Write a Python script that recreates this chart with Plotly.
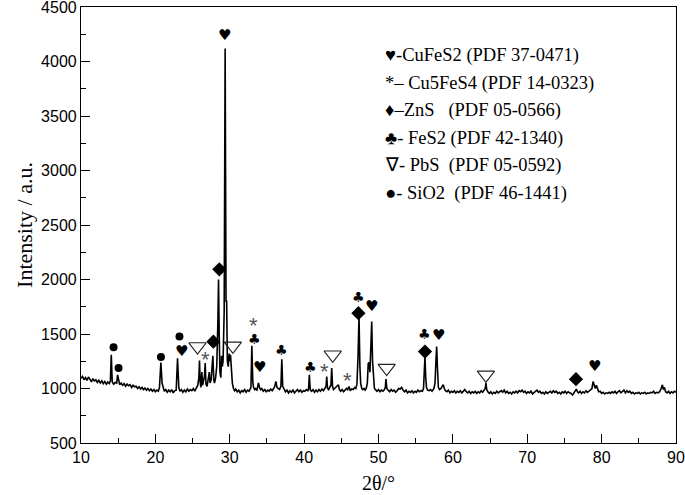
import plotly.graph_objects as go

# ---- XRD pattern (2theta, intensity) ----
pattern = [
    (10.0,1095),(10.2,1110),(10.4,1080),(10.6,1100),(10.8,1075),(11.0,1105),(11.2,1085),(11.4,1060),
    (11.6,1090),(11.8,1070),(12.0,1080),(12.2,1055),(12.4,1075),(12.6,1050),(12.8,1070),(13.0,1045),
    (13.2,1065),(13.4,1040),(13.6,1060),(13.8,1045),(13.95,1070),(14.07,1309),(14.2,1060),(14.4,1040),
    (14.6,1055),(14.8,1050),(14.92,1125),(15.05,1060),(15.2,1035),(15.4,1050),(15.6,1030),(15.8,1045),
    (16.0,1020),(16.2,1040),(16.4,1025),(16.6,1035),(16.8,1010),(17.0,1030),(17.2,1015),(17.4,1020),
    (17.6,1000),(17.8,1015),(18.0,995),(18.2,1010),(18.4,990),(18.6,1005),(18.8,985),(19.0,1000),
    (19.2,980),(19.4,995),(19.6,975),(19.8,990),(20.0,970),(20.2,985),(20.4,975),(20.55,1010),
    (20.74,1238),(20.9,1050),(21.05,1000),(21.2,975),(21.4,990),(21.6,965),(21.8,985),(22.0,970),
    (22.2,990),(22.4,960),(22.6,980),(22.8,985),(22.98,1278),(23.15,1010),(23.3,975),(23.5,990),
    (23.7,965),(23.9,985),(24.1,970),(24.3,995),(24.5,975),(24.7,990),(24.9,980),(25.1,1000),
    (25.3,975),(25.5,1010),(25.7,1030),(25.85,1100),(25.93,1256),(26.02,1060),(26.12,1010),(26.25,1150),
    (26.35,1030),(26.5,1080),(26.6,1110),(26.7,1233),(26.8,1040),(26.95,1020),(27.1,1100),(27.25,1150),
    (27.35,1050),(27.5,1080),(27.62,1200),(27.73,1300),(27.85,1080),(27.95,1050),(28.1,1100),(28.25,1200),
    (28.4,1600),(28.49,2000),(28.58,1500),(28.68,1150),(28.8,1100),(28.9,1300),(29.0,1200),(29.1,1250),
    (29.25,1700),(29.38,4120),(29.5,1800),(29.58,1800),(29.68,1250),(29.8,1200),(29.92,1320),(30.02,1250),
    (30.1,1310),(30.2,1150),(30.35,1050),(30.5,1000),(30.65,980),(30.8,995),(31.0,970),(31.2,985),
    (31.4,960),(31.6,980),(31.8,970),(32.0,990),(32.2,965),(32.4,985),(32.6,975),(32.85,1010),
    (32.97,1391),(33.1,1060),(33.2,1010),(33.35,990),(33.5,1000),(33.65,980),(33.86,1052),(34.0,1010),
    (34.15,990),(34.3,1000),(34.5,975),(34.7,990),(34.9,970),(35.1,985),(35.3,975),(35.5,995),
    (35.7,980),(35.9,1000),(36.05,1020),(36.2,1064),(36.35,1010),(36.5,1000),(36.7,990),(36.88,1020),
    (37.0,1269),(37.12,1020),(37.3,990),(37.5,970),(37.7,985),(37.9,960),(38.1,980),(38.3,965),
    (38.5,985),(38.7,960),(38.9,975),(39.1,990),(39.3,970),(39.5,985),(39.7,965),(39.9,980),
    (40.1,975),(40.3,990),(40.5,980),(40.6,1000),(40.7,1125),(40.82,990),(41.0,975),(41.2,990),
    (41.4,965),(41.6,985),(41.8,970),(42.0,990),(42.2,975),(42.4,995),(42.6,980),(42.8,1000),
    (42.95,1020),(43.04,1110),(43.15,1000),(43.3,990),(43.45,1010),(43.6,1030),(43.71,1187),(43.82,1020),
    (43.95,990),(44.1,1000),(44.3,1010),(44.45,1020),(44.6,1034),(44.75,990),(44.9,975),(45.1,990),
    (45.3,970),(45.5,985),(45.7,1000),(45.85,990),(46.04,1018),(46.2,980),(46.4,995),(46.6,990),
    (46.8,1010),(46.95,1000),(47.1,1040),(47.25,1300),(47.38,1660),(47.5,1200),(47.6,1050),(47.75,1000),
    (47.9,990),(48.05,1000),(48.2,985),(48.35,1000),(48.5,1050),(48.62,1230),(48.72,1240),(48.85,1150),
    (48.98,1350),(49.09,1614),(49.2,1250),(49.32,1050),(49.45,1000),(49.6,990),(49.8,975),(50.0,990),
    (50.2,970),(50.4,985),(50.6,975),(50.8,990),(50.92,1010),(51.0,1086),(51.12,1000),(51.3,985),
    (51.5,970),(51.7,990),(51.9,975),(52.1,985),(52.3,965),(52.5,980),(52.7,1000),(52.9,995),
    (53.1,1010),(53.3,985),(53.5,970),(53.7,985),(53.9,960),(54.1,975),(54.3,965),(54.5,980),
    (54.7,960),(54.9,975),(55.1,965),(55.3,985),(55.5,970),(55.7,980),(55.9,975),(56.05,1000),
    (56.15,1100),(56.25,1293),(56.35,1100),(56.45,1010),(56.6,985),(56.8,980),(57.0,990),(57.2,975),
    (57.45,1000),(57.6,1050),(57.72,1250),(57.82,1385),(57.92,1200),(58.05,1010),(58.2,990),(58.4,1000),
    (58.55,1020),(58.7,1034),(58.85,1000),(59.0,980),(59.2,970),(59.4,985),(59.6,960),(59.8,975),
    (60.0,965),(60.2,980),(60.4,960),(60.6,975),(60.8,965),(61.0,980),(61.2,960),(61.4,975),
    (61.6,990),(61.8,970),(62.0,960),(62.2,975),(62.4,955),(62.6,970),(62.8,960),(63.0,975),
    (63.2,955),(63.4,970),(63.6,960),(63.8,980),(64.0,965),(64.2,985),(64.35,1000),(64.44,1050),
    (64.55,990),(64.7,970),(64.9,955),(65.1,970),(65.3,950),(65.5,965),(65.7,955),(65.9,975),
    (66.1,960),(66.3,970),(66.5,980),(66.7,965),(66.9,985),(67.1,960),(67.3,975),(67.5,955),
    (67.7,965),(67.9,950),(68.1,970),(68.3,960),(68.5,975),(68.7,960),(68.9,980),(69.1,970),
    (69.3,985),(69.5,965),(69.7,975),(69.9,955),(70.1,970),(70.3,960),(70.5,975),(70.7,950),
    (70.9,965),(71.1,975),(71.3,985),(71.5,965),(71.7,975),(71.9,955),(72.1,965),(72.3,950),
    (72.5,970),(72.7,955),(72.9,965),(73.1,975),(73.3,960),(73.5,980),(73.7,965),(73.9,975),
    (74.1,955),(74.3,965),(74.5,950),(74.7,970),(74.9,960),(75.1,975),(75.3,955),(75.5,970),
    (75.7,960),(75.9,955),(76.1,940),(76.3,960),(76.45,985),(76.6,995),(76.75,970),(76.9,960),
    (77.1,975),(77.3,955),(77.5,970),(77.7,960),(77.9,980),(78.1,965),(78.3,975),(78.5,985),
    (78.7,1000),(78.85,1064),(79.0,1030),(79.15,1000),(79.3,1030),(79.45,990),(79.6,970),(79.8,975),
    (80.0,955),(80.2,965),(80.4,950),(80.6,960),(80.8,955),(81.0,965),(81.2,955),(81.4,970),
    (81.6,960),(81.8,975),(82.0,955),(82.2,970),(82.4,980),(82.6,960),(82.8,975),(83.0,985),
    (83.2,960),(83.4,980),(83.6,965),(83.8,975),(84.0,955),(84.2,965),(84.4,950),(84.6,960),
    (84.8,955),(85.0,965),(85.2,950),(85.4,960),(85.6,955),(85.8,965),(86.0,950),(86.2,960),
    (86.4,955),(86.6,965),(86.8,960),(87.0,975),(87.2,955),(87.4,965),(87.6,960),(87.8,970),
    (88.0,1000),(88.17,1034),(88.3,990),(88.45,1010),(88.6,970),(88.8,960),(89.0,975),(89.2,955),
    (89.4,970),(89.6,960),(89.8,975),(90.0,965),
]
two_theta = [p[0] for p in pattern]
intensity = [p[1] for p in pattern]

# ---- phase identification marks (2theta, label height) ----
cufes2_marks = [(29.3, 4240), (23.55, 1340), (34.0, 1200), (49.1, 1757), (58.0, 1490), (79.1, 1208)]
fes2_marks = [(33.3, 1452), (37.0, 1354), (40.8, 1201), (47.3, 1837), (56.25, 1501)]
zns_marks = [(28.6, 2093), (27.8, 1430), (47.3, 1691), (56.25, 1339), (76.55, 1086)]
pbs_marks = [(25.66, 1385), (30.42, 1391), (43.85, 1309), (51.1, 1187), (64.44, 1125)]
sio2_marks = [(14.38, 1379), (15.05, 1187), (20.75, 1288), (23.24, 1476)]
cu5fes4_marks = [(26.79, 1324), (33.18, 1629), (42.68, 1208), (45.86, 1132)]

legend_lines = [
    "♥-CuFeS2 (PDF 37-0471)",
    "*– Cu5FeS4 (PDF 14-0323)",
    "♦–ZnS\u00a0\u00a0\u00a0(PDF 05-0566)",
    "♣- FeS2 (PDF 42-1340)",
    "∇- PbS\u00a0\u00a0(PDF 05-0592)",
    "●- SiO2\u00a0\u00a0(PDF 46-1441)",
]

x_ticks = [10, 20, 30, 40, 50, 60, 70, 80, 90]
y_ticks = [500, 1000, 1500, 2000, 2500, 3000, 3500, 4000, 4500]

fig = go.Figure()
fig.add_trace(go.Scatter(x=two_theta, y=intensity, mode="lines",
                         line=dict(color="black", width=1.6), showlegend=False, hoverinfo="skip"))

fig.add_trace(go.Scatter(x=[m[0] for m in zns_marks], y=[m[1] for m in zns_marks], mode="markers",
                         marker=dict(symbol="diamond", size=11, color="black"), showlegend=False))
fig.add_trace(go.Scatter(x=[m[0] for m in pbs_marks], y=[m[1] for m in pbs_marks], mode="markers",
                         marker=dict(symbol="triangle-down-open", size=15, color="#222",
                                     line=dict(width=1.1)), showlegend=False))
fig.add_trace(go.Scatter(x=[m[0] for m in sio2_marks], y=[m[1] for m in sio2_marks], mode="markers",
                         marker=dict(symbol="circle", size=8, color="black"), showlegend=False))

for (x, y) in cufes2_marks:
    fig.add_annotation(x=x, y=y, xref="x", yref="y", text="♥", showarrow=False,
                       font=dict(family="DejaVu Sans", size=15, color="black"))
for (x, y) in fes2_marks:
    fig.add_annotation(x=x, y=y, xref="x", yref="y", text="♣", showarrow=False,
                       font=dict(family="DejaVu Sans", size=14, color="black"))
for (x, y) in cu5fes4_marks:
    fig.add_annotation(x=x, y=y, xref="x", yref="y", text="*", showarrow=False, yshift=-6,
                       font=dict(family="Liberation Sans", size=22, color="#555"))

legend_top_px = 55.5
legend_step_px = 27.5
for i, line in enumerate(legend_lines):
    py = legend_top_px + i * legend_step_px
    fig.add_annotation(x=(383 - 80.7) / 595.6, y=(443.3 - py) / 436.6, xref="paper", yref="paper",
                       xanchor="left", yanchor="middle", text=line, showarrow=False,
                       font=dict(family="Liberation Serif", size=18.5, color="black"))

axis_common = dict(showline=True, linecolor="black", linewidth=1.2, mirror=True,
                   ticks="inside", tickcolor="black", tickwidth=1.2, ticklen=9,
                   showgrid=False, zeroline=False, automargin=False,
                   ticklabeloverflow="allow",
                   tickfont=dict(family="Liberation Sans", size=16, color="black"))

fig.update_layout(
    width=685, height=495,
    margin=dict(l=81, r=9, t=7, b=52),
    paper_bgcolor="white", plot_bgcolor="white",
    xaxis=dict(range=[10, 90], tickvals=x_ticks,
               minor=dict(ticks="inside", dtick=5, ticklen=5, tickcolor="black", tickwidth=1.2),
               title=dict(text="2θ/°", font=dict(family="Liberation Serif", size=20, color="black"),
                          standoff=10),
               **axis_common),
    yaxis=dict(range=[500, 4500], tickvals=y_ticks,
               minor=dict(ticks="inside", dtick=250, ticklen=5, tickcolor="black", tickwidth=1.2),
               title=dict(text="Intensity / a.u.", font=dict(family="Liberation Serif", size=22, color="black"),
                          standoff=2),
               **axis_common),
)

fig.write_html("out.html", config={"displayModeBar": False},
               post_script="document.body.style.margin='0';document.body.style.overflow='hidden';")
